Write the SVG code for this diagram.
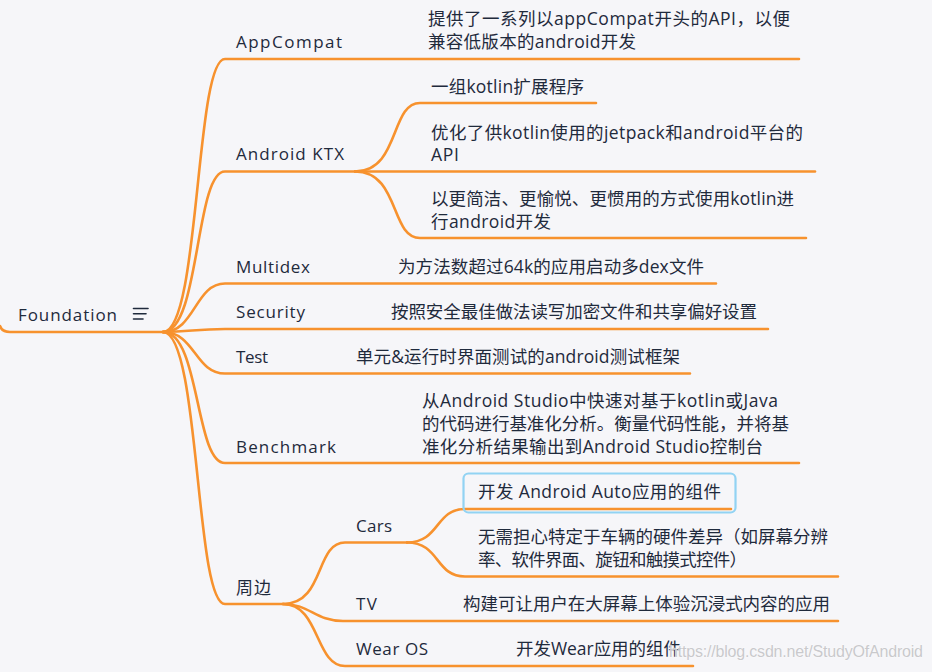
<svg xmlns="http://www.w3.org/2000/svg" width="932" height="672" viewBox="0 0 932 672">
<style>
.bg{fill:#f6f6f9}
.c{fill:none;stroke:#f7922e;stroke-width:2.6;stroke-linecap:round}
.t{font-family:"Open Sans","Noto Sans CJK SC",sans-serif;font-size:17px;fill:#1f2a3c}
.s{font-family:"Open Sans","Noto Sans CJK SC",sans-serif;font-size:17.5px;fill:#1f2a3c}
.wm{font-family:"Liberation Sans",Arial,sans-serif;font-size:16px;fill:#c9c9cc;stroke:#ffffff;stroke-width:0.6;paint-order:stroke}
.icon{stroke:#1f2a3c;stroke-width:1.6;stroke-linecap:round}
</style>
<rect class="bg" x="0" y="0" width="932" height="672"/>

<g id="connectors">
  <path class="c" d="M0,326 Q2,332 10,332 L163,332"/>
  <path class="c" d="M163,332 C200,332 195,59 225,59 L799,59"/>
  <path class="c" d="M163,332 C200,332 195,171.5 225,171.5 L355,171.5"/>
  <path class="c" d="M163,332 C195,332 195,283.5 225,283.5 L716,283.5"/>
  <path class="c" d="M163,332 C190,332 195,329 225,329 L768,329"/>
  <path class="c" d="M163,332 C195,332 195,373.5 225,373.5 L690,373.5"/>
  <path class="c" d="M163,332 C200,332 195,463 225,463 L799,463"/>
  <path class="c" d="M163,332 C200,332 195,604 225,604 L283,604"/>
  <path class="c" d="M355,171.5 C400,171.5 390,103 420,103 L596,103"/>
  <path class="c" d="M355,171.5 L815,171.5"/>
  <path class="c" d="M355,171.5 C400,171.5 390,238 420,238 L806,238"/>
  <path class="c" d="M283,604 C325,604 315,542.5 345,542.5 L407,542.5"/>
  <path class="c" d="M283,604 C310,604 315,621 343,621 L838,621"/>
  <path class="c" d="M283,604 C320,604 315,666 345,666 L693,666"/>
  <path class="c" d="M407,542.5 C440,542.5 435,509 465,509 L731,509"/>
  <path class="c" d="M407,542.5 C440,542.5 435,576.5 465,576.5 L838,576.5"/>
</g>

<g id="foundation">
  <text class="t" x="18" y="321" textLength="99">Foundation</text>
  <line class="icon" x1="133.5" y1="308.5" x2="148" y2="308.5"/>
  <line class="icon" x1="133.5" y1="313.8" x2="146" y2="313.8"/>
  <line class="icon" x1="133.5" y1="319" x2="143" y2="319"/>
</g>

<g id="appcompat"><text class="t" x="236" y="48" textLength="106">AppCompat</text></g>
<g id="appcompat-desc">
  <text class="s" x="428" y="25" textLength="362">提供了一系列以appCompat开头的API，以便</text>
  <text class="s" x="428" y="48" textLength="208">兼容低版本的android开发</text>
</g>

<g id="ktx"><text class="t" x="236" y="160" textLength="108">Android KTX</text></g>
<g id="ktx-1"><text class="s" x="431" y="93" textLength="153">一组kotlin扩展程序</text></g>
<g id="ktx-2">
  <text class="s" x="431" y="139" textLength="372">优化了供kotlin使用的jetpack和android平台的</text>
  <text class="s" x="431" y="161" textLength="28">API</text>
</g>
<g id="ktx-3">
  <text class="s" x="431" y="205" textLength="363">以更简洁、更愉悦、更惯用的方式使用kotlin进</text>
  <text class="s" x="431" y="228" textLength="120">行android开发</text>
</g>

<g id="multidex"><text class="t" x="236" y="273" textLength="74">Multidex</text></g>
<g id="multidex-desc"><text class="s" x="398" y="273" textLength="306">为方法数超过64k的应用启动多dex文件</text></g>

<g id="security"><text class="t" x="236" y="318" textLength="69">Security</text></g>
<g id="security-desc"><text class="s" x="391" y="318" textLength="366">按照安全最佳做法读写加密文件和共享偏好设置</text></g>

<g id="test"><text class="t" x="236" y="363" textLength="32">Test</text></g>
<g id="test-desc"><text class="s" x="356" y="363" textLength="324">单元&amp;运行时界面测试的android测试框架</text></g>

<g id="benchmark"><text class="t" x="236" y="453" textLength="100">Benchmark</text></g>
<g id="benchmark-desc">
  <text class="s" x="422" y="407" textLength="356">从Android Studio中快速对基于kotlin或Java</text>
  <text class="s" x="422" y="430" textLength="367">的代码进行基准化分析。衡量代码性能，并将基</text>
  <text class="s" x="422" y="453" textLength="341">准化分析结果输出到Android Studio控制台</text>
</g>

<g id="zhoubian"><text class="t" x="236" y="594" textLength="35">周边</text></g>

<g id="cars"><text class="t" x="356" y="532" textLength="36">Cars</text></g>
<g id="cars-1">
  <rect x="463.5" y="473.5" width="272" height="39" rx="5" fill="none" stroke="#92d3f3" stroke-width="2.2"/>
  <text class="s" x="478" y="498" textLength="243">开发 Android Auto应用的组件</text>
</g>
<g id="cars-2">
  <text class="s" x="478" y="543" textLength="350">无需担心特定于车辆的硬件差异（如屏幕分辨</text>
  <text class="s" x="478" y="566" textLength="269">率、软件界面、旋钮和触摸式控件）</text>
</g>

<g id="tv"><text class="t" x="356" y="610" textLength="21">TV</text></g>
<g id="tv-desc"><text class="s" x="463" y="610" textLength="367">构建可让用户在大屏幕上体验沉浸式内容的应用</text></g>

<g id="wearos"><text class="t" x="356" y="655" textLength="72">Wear OS</text></g>
<g id="wearos-desc"><text class="s" x="516" y="655" textLength="165">开发Wear应用的组件</text></g>

<text class="wm" x="669" y="657" textLength="254">https://blog.csdn.net/StudyOfAndroid</text>
</svg>
